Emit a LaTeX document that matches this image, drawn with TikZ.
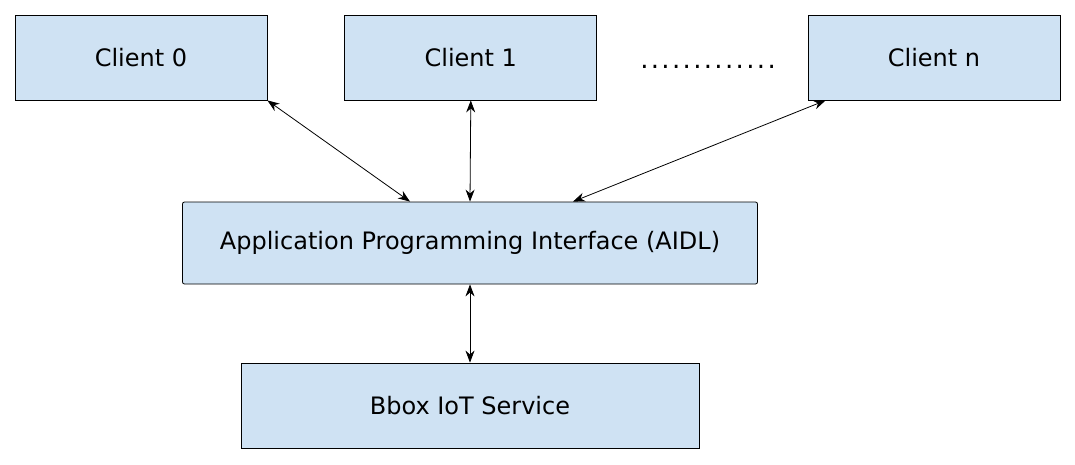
\documentclass[tikz,border=0pt]{standalone}
\usepackage{fontspec}
\setmainfont{DejaVu Sans}
\usetikzlibrary{arrows.meta, positioning}

\definecolor{boxblue}{HTML}{CFE2F3}

\begin{document}
\begin{tikzpicture}[
  x=1pt, y=-1pt,
  block/.style = {draw, fill=boxblue, line width=0.8pt, minimum height=85pt, minimum width=252pt,
    inner sep=0pt, align=center, font=\fontsize{24}{28}\selectfont},
  arrow/.style = {line width=0.8pt, {Stealth[length=12pt,width=9pt]}-{Stealth[length=12pt,width=9pt]}},
  node distance=77pt
]
  \useasboundingbox (0,0) rectangle (1075,464);

  % clients along the top
  \node[block] (client0) at (141,57.5) {Client 0};
  \node[block, right=77pt of client0] (client1) {Client 1};
  \node[block] (clientn) at (934,57.5) {Client n};
  \node[font=\fontsize{26}{28}\selectfont\addfontfeature{LetterSpace=9}, anchor=base] (dots) at (708,68) {.............};

  % interface in the middle
  \node[block, rounded corners=2pt, minimum width=575pt, minimum height=82pt] (api) at (470,243)
    {Application Programming Interface (AIDL)};

  % service at the bottom
  \node[block, minimum width=458pt] (service) at (470,405.5) {Bbox IoT Service};

  \draw[arrow] (client0.south east) -- ([xshift=-60pt]api.north);
  \draw[arrow] (client1.south) -- (api.north);
  \draw[arrow] ([xshift=18pt]clientn.south west) -- ([xshift=103pt]api.north);
  \draw[arrow] (api.south) -- (service.north);

\end{tikzpicture}
\end{document}
